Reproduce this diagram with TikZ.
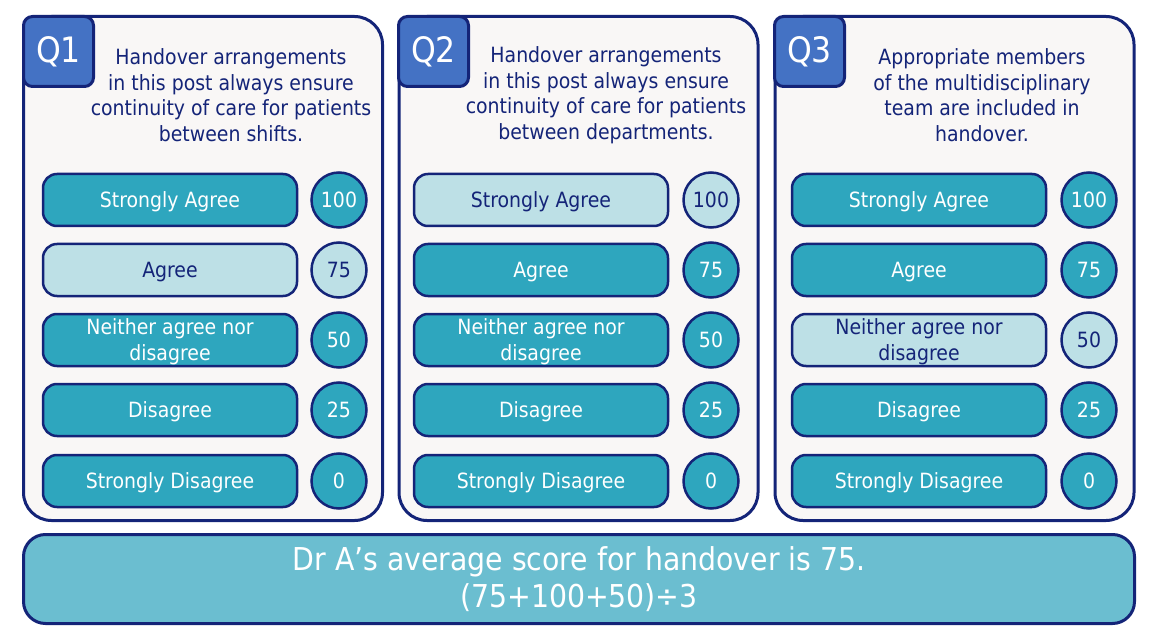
\documentclass[tikz,border=0pt]{standalone}
\usepackage{fontspec}
\setmainfont{DejaVu Sans Condensed}
\definecolor{navy}{RGB}{20,36,120}
\definecolor{panelbg}{RGB}{249,247,246}
\definecolor{qblue}{RGB}{68,114,196}
\definecolor{optdark}{RGB}{46,166,190}
\definecolor{optlight}{RGB}{189,224,230}
\definecolor{sumfill}{RGB}{107,190,208}
\begin{document}
\begin{tikzpicture}[x=1pt, y=-1pt,
  panel/.style={draw=navy, line width=3pt, fill=panelbg, rounded corners=28pt, minimum width=359pt, minimum height=504pt, inner sep=0pt},
  qbox/.style={draw=navy, line width=3pt, fill=qblue, rounded corners=9pt, minimum width=70pt, minimum height=70pt, inner sep=0pt, text=white, font=\fontsize{35}{40}\selectfont},
  qtext/.style={text=navy, align=center, font=\fontsize{21}{25.5}\selectfont},
  opt/.style={draw=navy, line width=2.5pt, fill=optdark, text=white, rounded corners=14pt, minimum width=254pt, minimum height=52pt, inner sep=0pt, text depth=0pt, align=center, font=\fontsize{21}{26}\selectfont},
  optsel/.style={opt, fill=optlight, text=navy},
  score/.style={circle, draw=navy, line width=2.5pt, fill=optdark, text=white, minimum size=55pt, inner sep=0pt, font=\fontsize{21}{24}\selectfont},
  scoresel/.style={score, fill=optlight, text=navy},
  summary/.style={draw=navy, line width=3pt, fill=sumfill, text=white, rounded corners=22pt, minimum width=1111pt, minimum height=89pt, inner sep=0pt, align=center, font=\fontsize{31.5}{37}\selectfont}
]
  \useasboundingbox (0,0) rectangle (1153,644);

  \node[panel] (p1) at (203, 268.5) {};
  \node[panel] (p2) at (578.5, 268.5) {};
  \node[panel] (p3) at (954.5, 268.5) {};

  \node[qbox] (q1) at (58.5, 51.5) {Q1};
  \node[qbox] (q2) at (433.5, 51.5) {Q2};
  \node[qbox] (q3) at (809.5, 51.5) {Q3};

  \node[qtext] (t1) at (231, 95) {Handover arrangements\\in this post always ensure\\continuity of care for patients\\between shifts.};
  \node[qtext] (t2) at (606, 95) {Handover arrangements\\in this post always ensure\\continuity of care for patients\\between departments.};
  \node[qtext] (t3) at (982, 95) {Appropriate members\\of the multidisciplinary\\team are included in\\handover.};

  \node[opt]    (a1) at (170, 200) {Strongly Agree};
  \node[optsel] (b1) at (170, 270) {Agree};
  \node[opt]    (c1) at (170, 340) {Neither agree nor\\disagree};
  \node[opt]    (d1) at (170, 410) {Disagree};
  \node[opt]    (e1) at (170, 481) {Strongly Disagree};
  \node[score]    (sa1) at (339, 200) {100};
  \node[scoresel] (sb1) at (339, 270) {75};
  \node[score]    (sc1) at (339, 340) {50};
  \node[score]    (sd1) at (339, 410) {25};
  \node[score]    (se1) at (339, 481) {0};

  \node[optsel] (a2) at (541, 200) {Strongly Agree};
  \node[opt]    (b2) at (541, 270) {Agree};
  \node[opt]    (c2) at (541, 340) {Neither agree nor\\disagree};
  \node[opt]    (d2) at (541, 410) {Disagree};
  \node[opt]    (e2) at (541, 481) {Strongly Disagree};
  \node[scoresel] (sa2) at (711, 200) {100};
  \node[score]    (sb2) at (711, 270) {75};
  \node[score]    (sc2) at (711, 340) {50};
  \node[score]    (sd2) at (711, 410) {25};
  \node[score]    (se2) at (711, 481) {0};

  \node[opt]    (a3) at (919, 200) {Strongly Agree};
  \node[opt]    (b3) at (919, 270) {Agree};
  \node[optsel] (c3) at (919, 340) {Neither agree nor\\disagree};
  \node[opt]    (d3) at (919, 410) {Disagree};
  \node[opt]    (e3) at (919, 481) {Strongly Disagree};
  \node[score]    (sa3) at (1089, 200) {100};
  \node[score]    (sb3) at (1089, 270) {75};
  \node[scoresel] (sc3) at (1089, 340) {50};
  \node[score]    (sd3) at (1089, 410) {25};
  \node[score]    (se3) at (1089, 481) {0};

  \node[summary] (avg) at (579, 579) {Dr A’s average score for handover is 75.\\(75+100+50)÷3};
\end{tikzpicture}
\end{document}
